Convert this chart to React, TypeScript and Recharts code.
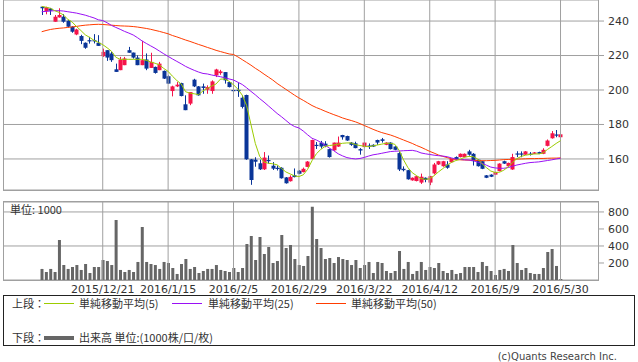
import { Bar, CartesianGrid, ComposedChart, Line, ReferenceLine, XAxis, YAxis } from "recharts";

const open = [
  248.3, 245.8, 247.2, 239.6, 242.1, 242.5, 240.2, 236.7, 232.2, 231.3,
  227.4, 228.9, 228.9, 227.4, 219.6, 223.1, 221.2, 212, 211.5, 214.4,
  223.1, 221.7, 218.8, 214.4, 217.7, 212.8, 213.4, 211.5, 211.1, 208,
  199.4, 202.1, 204, 191.7, 192.1, 206, 202.1, 202.1, 200.2, 199.4,
  208.5, 209.8, 210.4, 204.6, 200, 200.1, 195.5, 197.1, 159.8, 159.6,
  157.5, 154, 159.4, 156.1, 154.9, 154.9, 149.3, 147.1, 150.6, 153.2,
  152.4, 155.4, 160, 168.2, 169.5, 168.9, 165.7, 165, 167.2, 173.9,
  173.3, 169.5, 169.1, 165.7, 166.9, 167.8, 168.2, 171, 171.4, 168.2,
  169.5, 167.2, 163.4, 154.3, 153.5, 147.6, 147.2, 146.3, 149.1, 146.3,
  151.6, 156.8, 155.8, 156.8, 158.1, 161.1, 161.1, 161.1, 164.4, 163,
  159.6, 158.7, 150.5, 150.9, 150.9, 153, 158.7, 155.8, 153.9, 163.2,
  163.2, 162.5, 163.1, 163, 164, 163, 167.6, 172, 174.2, 172.6,
];
const close = [
  247.4, 248, 246, 242.5, 243.5, 239.6, 236.7, 233.8, 235.1, 228.5,
  224.5, 228.2, 228.4, 225.6, 222.1, 218.8, 217.3, 210.5, 217.7, 218.3,
  221.6, 218.8, 214.4, 217.3, 212.4, 216.3, 209.9, 215.3, 206.6, 203.7,
  202.1, 203.1, 196.5, 188.3, 198.8, 202.1, 196.9, 201.2, 201.7, 205,
  211.9, 210.8, 205.6, 201.7, 199.8, 199.9, 190.2, 159.8, 147.8, 158.4,
  154, 160.8, 159, 154.4, 154.5, 148.8, 145.9, 149.6, 149.5, 151.4,
  154.3, 158.5, 171, 168, 167.2, 167.6, 161.1, 169.5, 169.5, 172.6,
  170.7, 168.2, 166.3, 164.9, 169.5, 167.5, 167.2, 169.5, 170.5, 169.5,
  165.7, 165.3, 153.9, 153.5, 148.2, 149.1, 150, 149.7, 147.8, 150,
  156.8, 158.7, 158.7, 154.9, 160, 160, 163, 163, 162.5, 158.7,
  155.8, 154.3, 149.1, 149.7, 152.4, 157.3, 157.3, 157.7, 161.1, 162.8,
  162.8, 164.4, 162.6, 163.8, 163, 165.3, 170.7, 174.9, 174, 174.3,
];
const high = [
  248.5, 248.3, 247.6, 243.5, 247.4, 244, 240.5, 237, 235.5, 232,
  227.6, 230.8, 232.4, 231.8, 224, 223.1, 222.1, 215.3, 219.2, 219.2,
  225, 221.7, 220.1, 228.5, 221.2, 221.6, 213.6, 216.3, 211.3, 208.5,
  202.5, 204.6, 204.2, 196.9, 198.8, 206.5, 202.3, 203.7, 202.7, 205.6,
  212.3, 211.7, 210.4, 204.8, 203.7, 204, 196.9, 197.3, 160, 161,
  159.6, 164, 162, 158.2, 156.2, 155.2, 149.5, 150.5, 154.5, 153.5,
  155, 158.8, 171.2, 169.8, 170.5, 170.3, 166, 169.5, 173, 174,
  173.5, 169.8, 170, 166.3, 169.7, 169, 168.5, 171.2, 172.2, 169.7,
  169.7, 167.4, 164.3, 155.7, 153.7, 149.3, 150.2, 151.5, 149.3, 150.2,
  157.7, 158.9, 158.9, 158.7, 160.2, 161.5, 163.2, 163.2, 165.3, 163.4,
  159.8, 158.9, 150.7, 151.1, 152.6, 157.5, 159, 157.9, 163, 164.5,
  164.4, 164.6, 164, 164, 164.2, 166.2, 171.3, 176.2, 176.8, 175,
];
const low = [
  243.5, 243.9, 243.5, 239.6, 242, 239, 236.3, 233.2, 231.8, 226.6,
  223.9, 226.9, 227, 225.6, 219.2, 216.9, 216.3, 210.5, 211.5, 214.4,
  221.6, 218.2, 214.4, 214.4, 211.5, 212.8, 209.5, 211.5, 206.4, 203.5,
  196.3, 201.7, 196.3, 188.3, 191.2, 201.7, 196.7, 197.8, 197.8, 197.8,
  207.5, 208.8, 203.7, 201.5, 196, 196, 189.3, 159.5, 145, 155.5,
  153.6, 153.6, 157.3, 153.6, 153.3, 148.6, 145.7, 146.9, 149.3, 151.2,
  152.2, 155.2, 159.8, 165.8, 166, 166.8, 160.8, 164.8, 167, 171.2,
  170.5, 167.6, 166.2, 162.5, 166.7, 165.8, 167, 168.2, 169.5, 168,
  165.5, 165.1, 153, 152.8, 148, 147.4, 147, 145.5, 146.5, 144.8,
  151, 156.5, 155.5, 154.3, 157.9, 159.6, 160.9, 160.9, 161.9, 156.2,
  155.6, 154.1, 148.9, 149.5, 150.7, 152.8, 157.1, 155.6, 153.7, 161.1,
  161, 162.3, 162, 162.8, 162.8, 162.8, 167.3, 171.8, 172.6, 172.4,
];
const ma5 = [
  248.5, 248, 247.4, 246, 245, 243.5, 241, 239.4, 236.8, 234.5,
  232, 230.5, 228.8, 227.6, 226.3, 224.5, 222.5, 219, 217.8, 217.8,
  217.8, 217.8, 217.8, 217.8, 217.2, 216.3, 215.5, 214.6, 212.5, 210.8,
  208, 205.5, 203.5, 199, 198.2, 197.8, 197.3, 199.5, 201, 202.3,
  203.5, 206.3, 206.4, 205, 203, 200.5, 197, 191, 180, 169,
  161.5, 158.2, 157.5, 157.2, 156.6, 154.5, 152.5, 151.3, 150.2, 149.8,
  150.8, 154, 159, 163, 165.5, 167.3, 167.8, 168.1, 168.6, 169.1,
  169.3, 169.3, 168.3, 167.8, 167.4, 167.1, 167.6, 168.1, 168.6, 169.1,
  169.1, 168.5, 165, 159.5, 155, 152, 150.3, 148.6, 148.2, 148.5,
  150.3, 152.5, 154.4, 156.5, 158, 159.1, 159.8, 161, 161.5, 161.3,
  160, 157.2, 155, 153, 152.2, 152.3, 153.5, 155.5, 158, 160.2,
  161.5, 162.2, 162.6, 162.9, 162.9, 163.5, 165.5, 167.2, 169, 170.6,
];
const ma25 = [
  245.4, 245.6, 245.8, 246, 246, 245.8, 245.4, 245, 244.6, 244,
  243.4, 242.6, 241.8, 240.7, 240.3, 239, 237.5, 236.3, 235.2, 234,
  233, 231.9, 230.3, 228.5, 227, 225.6, 224.2, 222.6, 221, 219.5,
  218, 216.6, 215.2, 213.7, 212.5, 211.4, 210.4, 209.6, 209.3, 208.7,
  208.2, 207.7, 207.1, 206.4, 205.8, 204.5, 203.2, 201.3, 199.2, 197.2,
  195, 193, 190.8, 188.6, 186.4, 184.5, 182.4, 180.3, 178.8, 178,
  176.2, 174, 172, 171, 169.7, 168, 166.3, 164.8, 163, 161.8,
  160.8, 160.3, 160, 160.3, 160.9, 161.7, 162.4, 162.8, 163.3, 163.8,
  164.3, 164.5, 164.6, 164.8, 164.9, 165, 164.5, 163.5, 163, 162.6,
  162.2, 161.9, 161.7, 161.3, 160.6, 159.9, 159.7, 159.5, 159.4, 159,
  158.2, 157.5, 156.4, 155.3, 154.8, 154.6, 154.6, 155, 155.8, 156.5,
  157, 157.5, 157.9, 158.1, 158.3, 158.7, 159.1, 159.5, 160, 160.4,
];
const ma50 = [
  233.8, 234.5, 235.1, 235.5, 235.8, 236, 236.3, 236.6, 236.9, 237.3,
  237.6, 237.8, 238, 238.1, 238, 237.8, 237.6, 237.4, 237.2, 237.1,
  237, 236.8, 236.5, 236.1, 235.7, 235.2, 234.6, 234, 233.3, 232.6,
  231.6, 230.8, 229.9, 229, 228.2, 227.3, 226.4, 225.6, 224.7, 223.9,
  223, 222.3, 221.6, 220.9, 220.6, 219.2, 217.6, 216, 214.4, 212.6,
  211, 209.2, 207.5, 205.8, 203.8, 202.1, 200.4, 198.7, 197, 195.4,
  194, 192.5, 191, 189.8, 188.8, 187.7, 186.7, 185.7, 184.8, 183.8,
  183, 182.3, 181.5, 180.5, 179.4, 178.3, 177.2, 176.2, 175.3, 174.6,
  173.9, 173, 172, 171, 170, 169, 167.8, 166.8, 165.6, 164.4,
  163.4, 162.3, 161.5, 160.8, 160.1, 159.7, 159.5, 159.4, 159.3, 159.2,
  159.1, 159, 159, 159.1, 159.2, 159.4, 159.6, 159.7, 159.8, 159.9,
  160, 160.1, 160.2, 160.2, 160.3, 160.3, 160.4, 160.5, 160.5, 160.6,
];
const volume = [
  130, 94, 130, 94, 470, 176, 130, 153, 176, 118,
  188, 82, 153, 153, 235, 223, 176, 705, 118, 94,
  118, 94, 212, 623, 212, 188, 176, 130, 212, 200,
  141, 71, 188, 247, 130, 153, 82, 106, 130, 130,
  176, 118, 106, 94, 141, 94, 141, 423, 517, 235,
  506, 306, 388, 200, 223, 529, 376, 412, 247, 176,
  165, 282, 862, 482, 376, 247, 259, 200, 270, 247,
  235, 176, 235, 141, 176, 212, 82, 212, 200, 106,
  82, 106, 341, 130, 212, 71, 106, 212, 118, 153,
  141, 200, 106, 82, 118, 71, 82, 153, 153, 153,
  94, 212, 165, 106, 59, 118, 130, 106, 412, 200,
  118, 141, 82, 71, 71, 141, 329, 365, 165, 12,
];

const gridIdx = [14, 29, 44, 59, 74, 89, 104, 119];
const gridLabels = [
  "2015/12/21", "2016/1/15", "2016/2/5", "2016/2/29",
  "2016/3/22", "2016/4/12", "2016/5/9", "2016/5/30",
];
const priceTicks = [160, 180, 200, 220, 240];
const volumeTicks = [200, 400, 600, 800];

const rows = open.map((o, i) => ({
  i,
  o,
  c: close[i],
  h: high[i],
  l: low[i],
  ma5: ma5[i],
  ma25: ma25[i],
  ma50: ma50[i],
  v: volume[i],
}));

const UP = "#f5144a";
const DOWN = "#0a3598";
const GRID = "#a0a0a0";
const TXT = "#333";
const PAD = { left: 36.5, right: 35.3 };
const numFont = "'DejaVu Sans', sans-serif";
const jpFont = "'Noto Sans CJK JP', 'DejaVu Sans', sans-serif";

function Candle(props: any) {
  const { x, y, width, height, payload } = props;
  const { o, c, h, l } = payload;
  const top = Math.min(y, y + height);
  const span = Math.abs(height);
  const rng = h - l || 1;
  const py = (v: number) => top + ((h - v) / rng) * span;
  const color = c >= o ? UP : DOWN;
  const cx = Math.round(x + width / 2) + 0.5;
  const bTop = py(Math.max(o, c));
  const bBot = py(Math.min(o, c));
  return (
    <g>
      <line x1={cx} x2={cx} y1={top} y2={top + span} stroke={color} strokeWidth={1} />
      <rect x={cx - 2} y={bTop} width={4} height={Math.max(1.2, bBot - bTop)} fill={color} />
    </g>
  );
}

function LegendLine({ left, color, thick }: { left: number; color: string; thick?: boolean }) {
  return (
    <div
      style={{
        position: "absolute",
        left,
        top: thick ? 5 : 6,
        width: 30,
        height: thick ? 4 : 1,
        background: color,
      }}
    />
  );
}

export default function App() {
  return (
    <div
      style={{
        position: "absolute",
        left: 0,
        top: 0,
        width: 638,
        height: 362,
        background: "#fff",
        fontFamily: jpFont,
        color: TXT,
      }}
    >
      <div style={{ position: "absolute", left: 0, top: 0 }}>
        <ComposedChart width={638} height={191} data={rows} margin={{ top: 0, right: 0, bottom: 1, left: 3 }}>
          <CartesianGrid vertical={false} stroke={GRID} strokeWidth={1} />
          <XAxis dataKey="i" hide padding={PAD} />
          <YAxis
            orientation="right"
            width={40}
            domain={[142, 252.2]}
            allowDataOverflow
            ticks={priceTicks}
            axisLine={false}
            tickSize={6}
            tickMargin={4}
            tickLine={{ stroke: GRID }}
            tick={{ fontSize: 11, fill: TXT, fontFamily: numFont }}
          />
          {gridIdx.map((k) => (
            <ReferenceLine key={k} x={k} stroke={GRID} strokeWidth={1} />
          ))}
          <Line type="linear" dataKey="ma50" stroke="#ff3c00" strokeWidth={1} dot={false} isAnimationActive={false} />
          <Line type="linear" dataKey="ma25" stroke="#9a10f5" strokeWidth={1} dot={false} isAnimationActive={false} />
          <Bar dataKey={(d: any) => [d.l, d.h]} barSize={4} shape={Candle} isAnimationActive={false} />
          <Line type="linear" dataKey="ma5" stroke="#9ccc00" strokeWidth={1} dot={false} isAnimationActive={false} />
        </ComposedChart>
      </div>
      <div
        style={{
          position: "absolute",
          left: 3,
          top: -1,
          width: 596,
          height: 192,
          border: `1px solid ${GRID}`,
          boxSizing: "border-box",
          pointerEvents: "none",
        }}
      />

      <div style={{ position: "absolute", left: 0, top: 201 }}>
        <ComposedChart width={638} height={96} data={rows} margin={{ top: 1, right: 0, bottom: 0, left: 3 }}>
          <CartesianGrid vertical={false} stroke={GRID} strokeWidth={1} />
          <XAxis
            dataKey="i"
            padding={PAD}
            ticks={gridIdx}
            interval={0}
            height={17}
            axisLine={false}
            tickLine={false}
            tickSize={3}
            tickFormatter={(v: number) => gridLabels[gridIdx.indexOf(v)]}
            tick={{ fontSize: 11, fill: TXT, fontFamily: numFont }}
          />
          <YAxis
            orientation="right"
            width={40}
            domain={[0, 917]}
            allowDataOverflow
            ticks={volumeTicks}
            axisLine={false}
            tickSize={6}
            tickMargin={4}
            tickLine={{ stroke: GRID }}
            tick={{ fontSize: 11, fill: TXT, fontFamily: numFont }}
          />
          {gridIdx.map((k) => (
            <ReferenceLine key={k} x={k} stroke={GRID} strokeWidth={1} />
          ))}
          <Bar dataKey="v" barSize={3} fill="#666" isAnimationActive={false} />
        </ComposedChart>
      </div>
      <div
        style={{
          position: "absolute",
          left: 3,
          top: 201,
          width: 596,
          height: 80,
          border: `1px solid ${GRID}`,
          boxSizing: "border-box",
          pointerEvents: "none",
        }}
      />
      <div style={{ position: "absolute", left: 10, top: 202, fontSize: 11, lineHeight: "14px" }}>単位: 1000</div>

      <div
        style={{
          position: "absolute",
          left: 3,
          top: 295,
          width: 632,
          height: 51,
          border: "1px solid #222",
          boxSizing: "border-box",
          fontSize: 11,
          lineHeight: "13px",
        }}
      >
        <div style={{ position: "absolute", left: 0, top: 1, width: 630, height: 13 }}>
          <span style={{ position: "absolute", left: 8 }}>上段：</span>
          <LegendLine left={40} color="#9ccc00" />
          <span style={{ position: "absolute", left: 75 }}>単純移動平均(5)</span>
          <LegendLine left={168} color="#9a10f5" />
          <span style={{ position: "absolute", left: 204 }}>単純移動平均(25)</span>
          <LegendLine left={312} color="#ff3c00" />
          <span style={{ position: "absolute", left: 347 }}>単純移動平均(50)</span>
        </div>
        <div style={{ position: "absolute", left: 0, top: 35, width: 630, height: 13 }}>
          <span style={{ position: "absolute", left: 8 }}>下段：</span>
          <LegendLine left={40} color="#666" thick />
          <span style={{ position: "absolute", left: 75 }}>出来高 単位:(1000株/口/枚)</span>
        </div>
      </div>
      <div
        style={{
          position: "absolute",
          right: 21,
          top: 350,
          fontSize: 10,
          lineHeight: "13px",
          fontFamily: numFont,
          color: "#444",
        }}
      >
        (c)Quants Research Inc.
      </div>
    </div>
  );
}
